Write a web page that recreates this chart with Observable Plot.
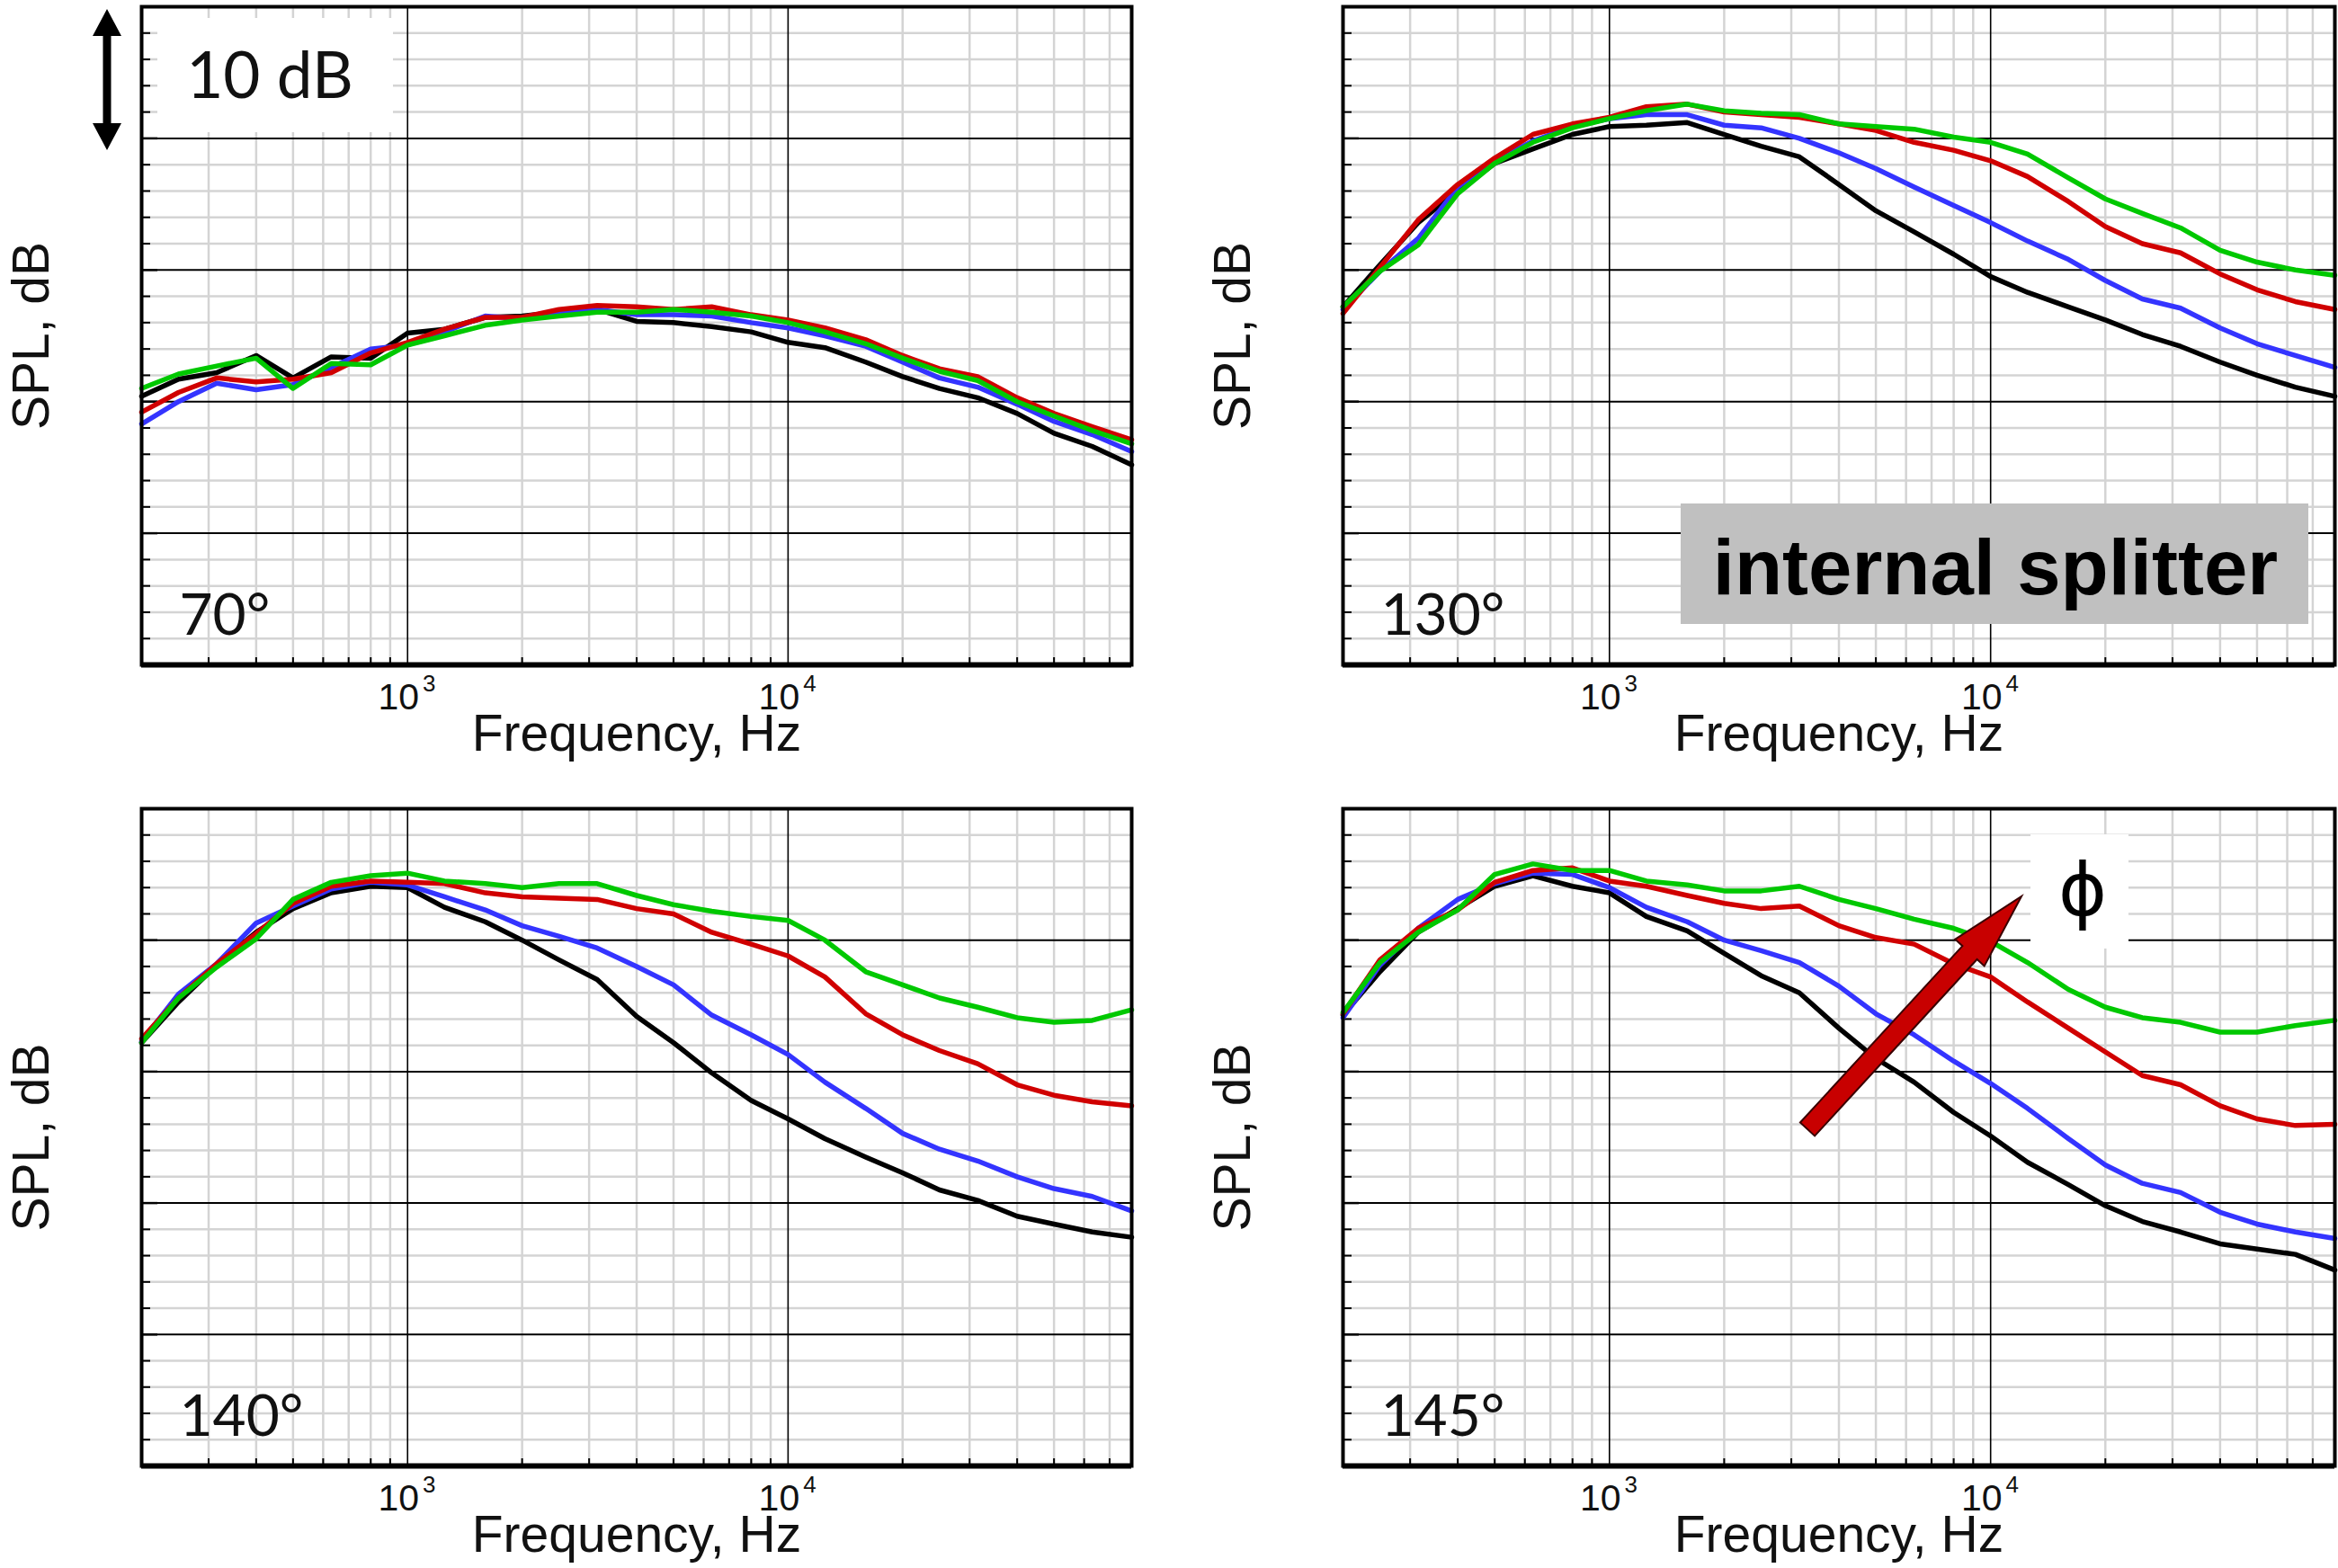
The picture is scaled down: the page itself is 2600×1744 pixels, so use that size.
<!DOCTYPE html>
<html><head><meta charset="utf-8">
<script src="https://cdn.jsdelivr.net/npm/d3@7"></script>
<script src="https://cdn.jsdelivr.net/npm/@observablehq/plot@0.6"></script>
<style>
html,body{margin:0;padding:0;background:#fff;}
#root{position:relative;width:2600px;height:1744px;overflow:hidden;background:#fff;}
.panel{position:absolute;}
#overlay{position:absolute;left:0;top:0;}
</style></head><body><div id="root"></div>
<script>
// ---- data ----
const freqs = [200,250,315,400,500,630,800,1000,1250,1600,2000,2500,3150,4000,5000,6300,8000,10000,12500,16000,20000,25000,31500,40000,50000,63000,80000];

const spl70Black = [60.4,61.7,62.2,63.5,61.8,63.4,63.3,65.2,65.5,66.4,66.5,66.8,67.0,66.1,66.0,65.7,65.3,64.5,64.1,63.0,61.9,61.0,60.3,59.1,57.6,56.6,55.2];
const spl70Blue  = [58.3,60.0,61.4,60.9,61.3,62.6,64.0,64.3,65.3,66.5,66.3,66.7,67.0,66.6,66.6,66.5,66.0,65.6,65.0,64.2,63.0,61.8,61.1,59.8,58.5,57.5,56.2];
const spl70Red   = [59.2,60.7,61.8,61.5,61.7,62.2,63.7,64.5,65.5,66.4,66.4,67.0,67.3,67.2,67.0,67.2,66.6,66.2,65.6,64.7,63.5,62.5,61.9,60.3,59.1,58.1,57.1];
const spl70Green = [61.0,62.1,62.7,63.3,61.0,62.9,62.8,64.3,65.0,65.8,66.2,66.5,66.8,66.8,67.0,66.8,66.5,66.0,65.3,64.4,63.3,62.3,61.6,60.0,58.9,57.8,56.8];

const spl130Black = [67.2,70.4,73.6,76.0,78.1,79.2,80.3,80.9,81.0,81.2,80.3,79.4,78.6,76.5,74.5,72.9,71.2,69.5,68.3,67.2,66.2,65.1,64.2,63.0,62.0,61.1,60.4];
const spl130Blue  = [67.0,69.9,72.4,76.3,78.3,79.8,80.9,81.5,81.8,81.8,81.0,80.8,80.0,78.9,77.7,76.3,74.9,73.6,72.2,70.8,69.2,67.8,67.1,65.6,64.4,63.5,62.6];
const spl130Red   = [66.7,70.2,73.8,76.5,78.5,80.3,81.1,81.6,82.4,82.6,82.0,81.8,81.6,81.1,80.6,79.7,79.1,78.3,77.1,75.2,73.3,72.0,71.3,69.7,68.5,67.6,67.0];
const spl130Green = [67.2,69.9,71.9,75.8,78.1,79.7,80.8,81.5,82.1,82.6,82.1,81.9,81.8,81.1,80.9,80.7,80.1,79.7,78.8,77.0,75.4,74.3,73.2,71.5,70.6,70.0,69.6];

const spl140Black = [72.2,75.3,78.1,80.6,82.4,83.6,84.1,84.0,82.5,81.4,80.0,78.5,77.0,74.2,72.2,69.9,67.8,66.4,64.9,63.5,62.3,61.0,60.2,59.0,58.4,57.8,57.4];
const spl140Blue  = [72.3,75.9,78.2,81.3,82.6,83.9,84.4,84.2,83.3,82.3,81.1,80.3,79.4,78.0,76.6,74.3,72.8,71.3,69.2,67.2,65.3,64.1,63.2,62.0,61.1,60.5,59.4];
const spl140Red   = [72.5,75.6,78.2,80.5,82.8,84.1,84.5,84.4,84.3,83.6,83.3,83.2,83.1,82.4,82.0,80.6,79.7,78.8,77.2,74.4,72.8,71.6,70.6,69.0,68.2,67.7,67.4];
const spl140Green = [72.2,75.6,77.95,80.1,83.1,84.4,84.9,85.1,84.5,84.3,84.0,84.3,84.3,83.4,82.7,82.2,81.8,81.5,80.0,77.6,76.6,75.6,74.9,74.1,73.75,73.9,74.7];

const spl145Black = [74.3,77.6,80.6,82.4,84.1,84.9,84.1,83.6,81.8,80.7,79.0,77.3,76.0,73.3,71.0,69.2,66.9,65.1,63.1,61.4,59.8,58.6,57.8,56.9,56.5,56.1,54.9];
const spl145Blue  = [74.1,78.1,80.9,83.1,84.3,85.1,85.0,84.0,82.5,81.4,80.0,79.2,78.3,76.5,74.4,72.8,70.8,69.1,67.2,64.9,62.9,61.5,60.8,59.3,58.4,57.8,57.3];
const spl145Red   = [74.4,78.5,80.9,82.3,84.4,85.3,85.5,84.5,84.1,83.4,82.8,82.4,82.6,81.1,80.2,79.7,78.2,77.2,75.3,73.3,71.5,69.7,69.0,67.4,66.4,65.9,66.0];
const spl145Green = [74.5,78.3,80.6,82.3,85.0,85.8,85.3,85.3,84.5,84.2,83.75,83.75,84.1,83.1,82.4,81.6,80.9,79.9,78.3,76.25,74.9,74.1,73.75,73.0,73.0,73.5,73.9];

const angles = ["70°","130°","140°","145°"];
const seriesNames = ["φ1","φ2","φ3","φ4"];
const seriesColors = ["#000000","#3434ff","#d00000","#00c800"];

const freqDomain = [200, 80000];
const splDomain = [40, 90];
const majorFreq = [1000, 10000];
const majorExp = ["3", "4"];
const minorFreq = [200,300,400,500,600,700,800,900,2000,3000,4000,5000,6000,7000,8000,9000,20000,30000,40000,50000,60000,70000,80000];
const majorSpl = [50, 60, 70, 80];
const minorSpl = [42,44,46,48,52,54,56,58,62,64,66,68,72,74,76,78,82,84,86,88];

const panelSeries = [
  [spl70Black, spl70Blue, spl70Red, spl70Green],
  [spl130Black, spl130Blue, spl130Red, spl130Green],
  [spl140Black, spl140Blue, spl140Red, spl140Green],
  [spl145Black, spl145Blue, spl145Red, spl145Green]
];

// ---- layout ----
const layout = [
  {left:0,    top:0,   m:{top:7,  right:42, bottom:133, left:157}},
  {left:1300, top:0,   m:{top:7,  right:4,  bottom:133, left:193}},
  {left:0,    top:872, m:{top:27, right:42, bottom:114, left:157}},
  {left:1300, top:872, m:{top:27, right:4,  bottom:114, left:193}}
];
const PW = 1300, PH = 872;
const root = document.getElementById("root");

layout.forEach((L, p) => {
  const iw = PW - L.m.left - L.m.right;
  const ih = PH - L.m.top - L.m.bottom;
  const decadePx = iw / Math.log10(freqDomain[1] / freqDomain[0]);
  const dbPx = ih / (splDomain[1] - splDomain[0]);
  const tickX = (len) => freqDomain[0] * Math.pow(10, len / decadePx);
  const tickY = (len) => splDomain[0] + len / dbPx;

  const lineMarks = panelSeries[p].map((arr, k) =>
    Plot.line(freqs.map((f, i) => ({f, spl: arr[i], s: seriesNames[k]})),
      {x: "f", y: "spl", stroke: seriesColors[k], strokeWidth: 5.5, strokeLinejoin: "round"}));

  const chart = Plot.plot({
    width: PW, height: PH,
    marginTop: L.m.top, marginRight: L.m.right, marginBottom: L.m.bottom, marginLeft: L.m.left,
    x: {type: "log", domain: freqDomain, axis: null},
    y: {domain: splDomain, axis: null},
    style: {background: "white", overflow: "visible"},
    marks: [
      Plot.ruleX(minorFreq, {stroke: "#d4d4d4", strokeWidth: 2.5}),
      Plot.ruleY(minorSpl, {stroke: "#d4d4d4", strokeWidth: 2.5}),
      Plot.ruleX(majorFreq, {stroke: "#000", strokeWidth: 1.6}),
      Plot.ruleY(majorSpl, {stroke: "#000", strokeWidth: 2}),
      Plot.ruleY(minorSpl, {x1: freqDomain[0], x2: tickX(10), stroke: "#000", strokeWidth: 2}),
      Plot.ruleY(majorSpl, {x1: freqDomain[0], x2: tickX(18), stroke: "#000", strokeWidth: 2.5}),
      Plot.ruleX(minorFreq, {y1: splDomain[0], y2: tickY(8), stroke: "#000", strokeWidth: 2}),
      ...lineMarks,
      Plot.frame({stroke: "#000", strokeWidth: 4}),
      Plot.ruleY([splDomain[0]], {stroke: "#000", strokeWidth: 6}),
      Plot.text(majorFreq, {x: d => d, text: () => "10", frameAnchor: "bottom", dy: 49, dx: -10, lineAnchor: "bottom", textAnchor: "middle", fontSize: 41, fontFamily: "Liberation Sans, Arial, sans-serif", fill: "#111"}),
      Plot.text(majorFreq, {x: d => d, text: (d, i) => majorExp[i], frameAnchor: "bottom", dy: 29, dx: 24, lineAnchor: "bottom", textAnchor: "middle", fontSize: 26, fontFamily: "Liberation Sans, Arial, sans-serif", fill: "#111"}),
      Plot.text(["Frequency, Hz"], {text: d => d, frameAnchor: "bottom", dy: 95, lineAnchor: "bottom", textAnchor: "middle", fontSize: 57, fontFamily: "Liberation Sans, Arial, sans-serif", fill: "#111"}),
      Plot.text(["SPL, dB"], {text: d => d, frameAnchor: "left", rotate: -90, dx: -104, lineAnchor: "bottom", textAnchor: "middle", fontSize: 57, fontFamily: "Liberation Sans, Arial, sans-serif", fill: "#111"}),
      Plot.text([angles[p]], {text: d => d, frameAnchor: "bottom-left", dx: 42, dy: -34, lineAnchor: "bottom", textAnchor: "start", fontSize: 64, fontFamily: "Lato, sans-serif", fill: "#111"})
    ]
  });
  const div = document.createElement("div");
  div.className = "panel";
  div.style.left = L.left + "px";
  div.style.top = L.top + "px";
  div.appendChild(chart);
  root.appendChild(div);
});

// ---- annotations overlay ----
const svg = d3.select(root).append("svg").attr("id", "overlay")
  .attr("width", 2600).attr("height", 1744).style("pointer-events", "none");

// 10 dB scale arrow (double-headed)
{
  const cx = 119, y0 = 10, y1 = 167, hw = 16, hl = 30, sw = 4.5;
  const pts = [[cx, y0], [cx + hw, y0 + hl], [cx + sw, y0 + hl], [cx + sw, y1 - hl], [cx + hw, y1 - hl],
               [cx, y1], [cx - hw, y1 - hl], [cx - sw, y1 - hl], [cx - sw, y0 + hl], [cx - hw, y0 + hl]];
  svg.append("polygon").attr("points", pts.map(p => p.join(",")).join(" ")).attr("fill", "#000");
}
svg.append("rect").attr("x", 175).attr("y", 20).attr("width", 262).attr("height", 127).attr("fill", "#fff");
svg.append("text").attr("x", 300).attr("y", 109).attr("text-anchor", "middle")
  .attr("font-family", "Lato, sans-serif").attr("font-size", 71).attr("fill", "#111").text("10 dB");

// internal splitter label
svg.append("rect").attr("x", 1869).attr("y", 560).attr("width", 698).attr("height", 134).attr("fill", "#c0c0c0");
svg.append("text").attr("x", 2219).attr("y", 661).attr("text-anchor", "middle")
  .attr("font-family", "Liberation Sans, Arial, sans-serif").attr("font-weight", "bold")
  .attr("font-size", 87).attr("fill", "#000").text("internal splitter");

// phi label
svg.append("rect").attr("x", 2258).attr("y", 928).attr("width", 109).attr("height", 127).attr("fill", "#fff");
svg.append("text").attr("x", 2316).attr("y", 1018).attr("text-anchor", "middle")
  .attr("font-family", "DejaVu Sans, sans-serif").attr("font-size", 82).attr("fill", "#000").text("ϕ");

// red arrow
{
  const T = [2010, 1256], P = [2248, 997];
  const dx = P[0] - T[0], dy = P[1] - T[1], len = Math.hypot(dx, dy);
  const u = [dx / len, dy / len], n = [-u[1], u[0]];
  const sh = 11, hh = 22, hlen = 85;
  const B = [P[0] - hlen * u[0], P[1] - hlen * u[1]];
  const add = (a, s) => [a[0] + s * n[0], a[1] + s * n[1]];
  const pts = [add(T, sh), add(B, sh), add(B, hh), P, add(B, -hh), add(B, -sh), add(T, -sh)];
  svg.append("polygon").attr("points", pts.map(p => p.join(",")).join(" "))
    .attr("fill", "#c80000").attr("stroke", "#3a0000").attr("stroke-width", 2).attr("stroke-linejoin", "miter");
}
</script>
</body></html>
